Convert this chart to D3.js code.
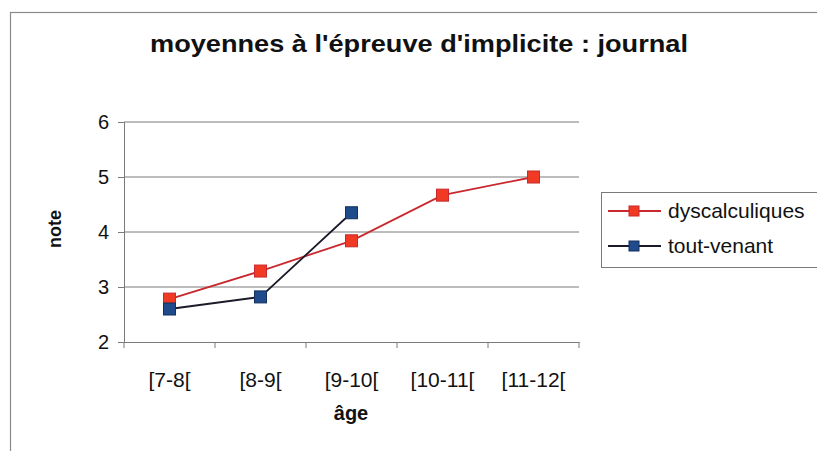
<!DOCTYPE html>
<html>
<head>
<meta charset="utf-8">
<script src="https://cdn.jsdelivr.net/npm/d3@7"></script>
<style>
  html, body { margin: 0; padding: 0; background: #fff; }
  svg { display: block; font-family: Arial, "Liberation Sans", sans-serif; }
</style>
</head>
<body>
<svg id="chart" width="817" height="451"></svg>
<script>
// Age groups and mean scores per group
const ageGroups = ["[7-8[", "[8-9[", "[9-10[", "[10-11[", "[11-12["];
const dyscalculiques = [2.78, 3.29, 3.84, 4.67, 5.0];
const toutVenant = [2.6, 2.82, 4.35, null, null];
const yTicks = [2, 3, 4, 5, 6];

const series = [
  { name: "dyscalculiques", values: dyscalculiques, line: "#c8282e", fill: "#f03a24", stroke: "#c8282e" },
  { name: "tout-venant", values: toutVenant, line: "#1a1a2a", fill: "#1f4a8c", stroke: "#13305e" }
];

const svg = d3.select("#chart");
const FONT = "Arial, 'Liberation Sans', sans-serif";

// chart frame
svg.append("rect")
  .attr("x", 10.5).attr("y", 12.5)
  .attr("width", 830).attr("height", 460)
  .attr("fill", "#fff").attr("stroke", "#8a8a8a").attr("stroke-width", 1.2);

const plot = { left: 124, right: 579, top: 122, bottom: 342 };

const x = d3.scaleBand().domain(ageGroups).range([plot.left, plot.right]);
const y = d3.scaleLinear().domain([2, 6]).range([plot.bottom, plot.top]);

// gridlines
svg.append("g")
  .selectAll("line")
  .data(yTicks.filter(t => t > 2))
  .join("line")
  .attr("x1", plot.left).attr("x2", plot.right)
  .attr("y1", d => y(d)).attr("y2", d => y(d))
  .attr("stroke", "#7a7a7a").attr("stroke-width", 1);

// y axis
const yAxis = svg.append("g")
  .attr("transform", `translate(${plot.left},0)`)
  .call(d3.axisLeft(y).tickValues(yTicks).tickSize(6).tickPadding(9).tickFormat(d3.format("d")));
yAxis.select(".domain").attr("stroke", "#7a7a7a");
yAxis.selectAll(".tick line").attr("stroke", "#7a7a7a");
yAxis.selectAll("text").attr("font-size", 20).attr("fill", "#111").attr("font-family", FONT);

// x axis with ticks at band edges
const xAxis = svg.append("g")
  .attr("transform", `translate(0,${plot.bottom})`)
  .call(d3.axisBottom(x).tickSize(0).tickPadding(30));
xAxis.select(".domain").attr("stroke", "#7a7a7a");
xAxis.selectAll("text").attr("font-size", 21).attr("fill", "#111").attr("font-family", FONT);
const edges = ageGroups.map(g => x(g)).concat([x(ageGroups[ageGroups.length - 1]) + x.bandwidth()]);
svg.append("g").selectAll("line").data(edges).join("line")
  .attr("x1", d => d).attr("x2", d => d)
  .attr("y1", plot.bottom).attr("y2", plot.bottom + 6)
  .attr("stroke", "#7a7a7a");

const cx = g => x(g) + x.bandwidth() / 2;

// lines and markers
series.forEach(s => {
  const pts = ageGroups.map((g, i) => ({ g, v: s.values[i] })).filter(d => d.v != null);
  svg.append("path")
    .datum(pts)
    .attr("fill", "none")
    .attr("stroke", s.line)
    .attr("stroke-width", 1.8)
    .attr("d", d3.line().x(d => cx(d.g)).y(d => y(d.v)));
  svg.append("g").selectAll("rect").data(pts).join("rect")
    .attr("x", d => cx(d.g) - 6).attr("y", d => y(d.v) - 6)
    .attr("width", 12).attr("height", 12)
    .attr("fill", s.fill).attr("stroke", s.stroke).attr("stroke-width", 1);
});

// title
svg.append("text")
  .attr("x", 419).attr("y", 52)
  .attr("text-anchor", "middle")
  .attr("font-size", 24).attr("font-weight", "bold").attr("fill", "#111")
  .attr("textLength", 538).attr("lengthAdjust", "spacingAndGlyphs")
  .text("moyennes à l'épreuve d'implicite : journal");

// axis titles
svg.append("text")
  .attr("transform", "translate(61,229) rotate(-90)")
  .attr("text-anchor", "middle")
  .attr("font-size", 18).attr("font-weight", "bold").attr("fill", "#111")
  .text("note");

svg.append("text")
  .attr("x", 351).attr("y", 420)
  .attr("text-anchor", "middle")
  .attr("font-size", 20).attr("font-weight", "bold").attr("fill", "#111")
  .text("âge");

// legend
const legend = svg.append("g");
legend.append("rect")
  .attr("x", 601.5).attr("y", 192.5)
  .attr("width", 240).attr("height", 75)
  .attr("fill", "#fff").attr("stroke", "#7a7a7a").attr("stroke-width", 1);
series.forEach((s, i) => {
  const ly = 211 + i * 35;
  legend.append("line")
    .attr("x1", 608).attr("x2", 661).attr("y1", ly).attr("y2", ly)
    .attr("stroke", s.line).attr("stroke-width", 1.8);
  legend.append("rect")
    .attr("x", 629).attr("y", ly - 5).attr("width", 10).attr("height", 10)
    .attr("fill", s.fill).attr("stroke", s.stroke);
  legend.append("text")
    .attr("x", 668).attr("y", ly + 7)
    .attr("font-size", 21).attr("fill", "#111")
    .text(s.name);
});
</script>
</body>
</html>
